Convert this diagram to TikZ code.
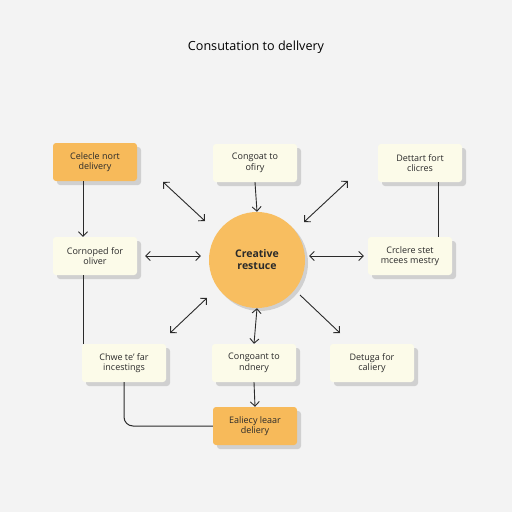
\documentclass[tikz,border=0pt]{standalone}
\usepackage{fontspec}
\setmainfont{Open Sans}
\usepackage{tikz}
\usetikzlibrary{arrows.meta, shadows}
\definecolor{bgpaper}{RGB}{243,243,243}
\definecolor{creamfill}{RGB}{252,251,233}
\definecolor{orangefill}{RGB}{247,186,90}
\definecolor{hubfill}{RGB}{248,190,96}
\definecolor{inkdark}{RGB}{42,42,42}
\definecolor{shadowgray}{RGB}{208,208,208}

\begin{document}
\begin{tikzpicture}[x=1pt, y=-1pt,
    box/.style={rectangle, rounded corners=3pt, fill=creamfill, minimum width=84pt, minimum height=38pt, align=center, text=inkdark, font=\fontsize{9}{10.5}\selectfont, drop shadow={shadow xshift=4pt, shadow yshift=-4pt, fill=shadowgray, opacity=1}},
    hot/.style={box, fill=orangefill},
    hub/.style={circle, fill=hubfill, minimum size=96pt, align=center, text=inkdark, font=\fontsize{10.5}{12}\selectfont\bfseries, drop shadow={shadow xshift=3pt, shadow yshift=-3pt, fill=shadowgray, opacity=1}},
    arrow/.style={-{Straight Barb[length=4.5pt, width=9pt]}, line width=0.9pt, draw=inkdark},
    biarrow/.style={{Straight Barb[length=4.5pt, width=9pt]}-{Straight Barb[length=4.5pt, width=9pt]}, line width=0.9pt, draw=inkdark},
    link/.style={line width=1pt, draw=inkdark}
]
    % Background
    \fill[bgpaper] (0,0) rectangle (512,512);
    \useasboundingbox (0,0) rectangle (512,512);

    % Title
    \node[font=\fontsize{12.6}{14}\selectfont, text=black] (title) at (256,47) {Consutation to dellvery};

    % Top row
    \node[hot] (cel) at (95,162) {Celecle nort\\delivery};
    \node[box] (cgt) at (255,163) {Congoat to\\ofiry};
    \node[box] (det) at (420,163) {Dettart fort\\clicres};

    % Middle row
    \node[box] (cor) at (95,256) {Cornoped for\\oliver};
    \node[hub] (hub) at (257,260) {Creative\\restuce};
    \node[box] (crc) at (410,256) {Crclere stet\\mcees mestry};

    % Bottom row
    \node[box] (cho) at (124,363) {Chwe te' far\\incestings};
    \node[box] (cga) at (254,363) {Congoant to\\ndnery};
    \node[box] (dtg) at (372,363) {Detuga for\\caliery};
    \node[hot] (ela) at (255,426) {Ealiecy leaar\\deliery};

    % Free ends of the diagonal arrows
    \coordinate (nwin) at (205,221);
    \coordinate (nwout) at (163,182);
    \coordinate (nein) at (304,222);
    \coordinate (neout) at (348,181);
    \coordinate (swin) at (207,298);
    \coordinate (swout) at (170,333);
    \coordinate (sein) at (300,295);
    \coordinate (seout) at (340,333);

    % Around the hub
    \draw[arrow] (cgt.south) -- (hub.north);
    \draw[biarrow, shorten <=8pt, shorten >=8pt] (hub.west |- cor.east) -- (cor.east);
    \draw[biarrow, shorten <=4pt, shorten >=4pt] (hub.east |- crc.west) -- (crc.west);
    \draw[biarrow] (hub.south) -- (cga.north);
    \draw[biarrow] (nwin) -- (nwout);
    \draw[biarrow] (nein) -- (neout);
    \draw[biarrow] (swin) -- (swout);
    \draw[arrow] (sein) -- (seout);

    % Side links
    \draw[arrow] ([xshift=-12pt]cel.south) -- ([xshift=-12pt]cor.north);
    \draw[link] ([xshift=-12pt]cor.south) -- ([xshift=-12pt]cor.south |- cho.north);
    \draw[link] ([xshift=18pt]det.south) -- ([xshift=18pt]det.south |- crc.north);
    \draw[link, rounded corners=9pt] (cho.south) |- (ela.west);
    \draw[arrow] (cga.south) -- (ela.north);
\end{tikzpicture}
\end{document}
